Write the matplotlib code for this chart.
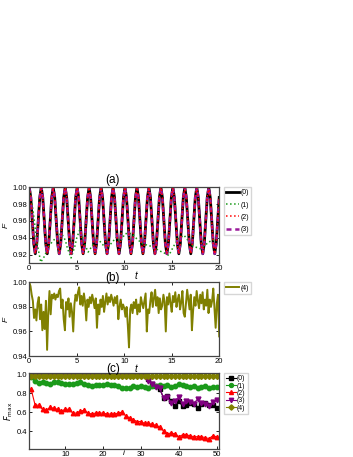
import numpy as np
import matplotlib
matplotlib.use("Agg")
from matplotlib import pyplot as plt

plt.rcParams['font.family'] = ['Liberation Sans', 'DejaVu Sans']
plt.rcParams['font.size'] = 5.5

# (a) fidelity vs t, curves (0), (2), (3) coincide
t_a = np.linspace(0, 20, 128)
f0 = [
    1.000, 0.988, 0.960, 0.933, 0.921, 0.933, 0.960, 0.988,
    1.000, 0.988, 0.960, 0.933, 0.921, 0.933, 0.960, 0.988,
    1.000, 0.988, 0.960, 0.933, 0.921, 0.933, 0.960, 0.988,
    1.000, 0.988, 0.960, 0.933, 0.921, 0.933, 0.960, 0.988,
    1.000, 0.988, 0.960, 0.933, 0.921, 0.933, 0.960, 0.988,
    1.000, 0.988, 0.960, 0.933, 0.921, 0.933, 0.960, 0.988,
    1.000, 0.988, 0.960, 0.933, 0.921, 0.933, 0.960, 0.988,
    1.000, 0.988, 0.960, 0.933, 0.921, 0.933, 0.960, 0.988,
    1.000, 0.988, 0.960, 0.933, 0.921, 0.933, 0.960, 0.988,
    1.000, 0.988, 0.960, 0.933, 0.921, 0.933, 0.960, 0.988,
    1.000, 0.988, 0.960, 0.933, 0.921, 0.933, 0.960, 0.988,
    1.000, 0.988, 0.960, 0.933, 0.921, 0.933, 0.960, 0.988,
    1.000, 0.988, 0.960, 0.933, 0.921, 0.933, 0.960, 0.988,
    1.000, 0.988, 0.960, 0.933, 0.921, 0.933, 0.960, 0.988,
    1.000, 0.988, 0.960, 0.933, 0.921, 0.933, 0.960, 0.988,
    1.000, 0.988, 0.960, 0.933, 0.921, 0.933, 0.960, 0.988,
]
f2 = f0  # same as (0) in the picture
f3 = f0

t1 = [0, 0.4, 0.8, 1.2, 1.6, 2.0, 2.4, 2.8, 3.2, 3.4, 3.8, 4.0, 4.4, 4.8, 5.0,
      5.3, 5.6, 6.0, 6.2, 6.6, 7.1, 7.5, 8.1, 8.6, 9.2, 9.6, 10.1, 10.8, 11.3,
      11.9, 12.5, 13.1, 13.6, 14.2, 14.7, 15.2, 15.7, 16.3, 16.7, 17.1, 17.5,
      18.0, 18.5, 18.9, 19.5, 20.0]
f1 = [1.0, 0.972, 0.935, 0.911, 0.918, 0.929, 0.935, 0.940, 0.944, 0.945, 0.937,
      0.928, 0.916, 0.930, 0.940, 0.949, 0.940, 0.928, 0.923, 0.930, 0.939, 0.935,
      0.927, 0.933, 0.941, 0.936, 0.945, 0.945, 0.939, 0.933, 0.931, 0.929, 0.925,
      0.922, 0.919, 0.930, 0.939, 0.943, 0.937, 0.931, 0.929, 0.927, 0.931, 0.935,
      0.938, 0.941]

# (b) fidelity of case (4)
t_b = np.linspace(0, 20, 161)
f4 = [
    1.000, 0.997, 0.990, 0.985, 0.971, 0.978, 0.969, 0.983,
    0.988, 0.970, 0.982, 0.961, 0.976, 0.962, 0.985, 0.945,
    0.975, 0.993, 0.974, 0.990, 0.987, 0.991, 0.986, 0.990,
    0.988, 0.993, 0.995, 0.979, 0.986, 0.970, 0.961, 0.984,
    0.978, 0.987, 0.972, 0.983, 0.976, 0.960, 0.982, 0.990,
    0.985, 0.992, 0.996, 0.982, 0.989, 0.981, 0.991, 0.984,
    0.969, 0.986, 0.980, 0.988, 0.983, 0.990, 0.985, 0.979,
    0.987, 0.963, 0.982, 0.974, 0.986, 0.980, 0.989, 0.976,
    0.984, 0.991, 0.982, 0.988, 0.984, 0.990, 0.986, 0.981,
    0.988, 0.983, 0.989, 0.970, 0.980, 0.986, 0.978, 0.982,
    0.979, 0.972, 0.980, 0.965, 0.947, 0.978, 0.982, 0.975,
    0.984, 0.979, 0.986, 0.974, 0.982, 0.976, 0.988, 0.983,
    0.979, 0.985, 0.991, 0.960, 0.978, 0.975, 0.985, 0.992,
    0.980, 0.987, 0.994, 0.981, 0.988, 0.975, 0.987, 0.978,
    0.981, 0.990, 0.984, 0.960, 0.988, 0.982, 0.991, 0.983,
    0.976, 0.989, 0.984, 0.992, 0.980, 0.986, 0.990, 0.978,
    0.984, 0.993, 0.975, 0.972, 0.983, 0.994, 0.986, 0.978,
    0.990, 0.961, 0.977, 0.988, 0.981, 0.993, 0.985, 0.979,
    0.990, 0.983, 0.992, 0.978, 0.986, 0.981, 0.994, 0.975,
    0.986, 0.980, 0.985, 0.995, 0.979, 0.963, 0.983, 0.990,
    0.956,
]

# (c) maximal fidelity vs i
i_c = np.arange(1, 51)
fm0 = [1.00, 1.00, 0.99, 1.00, 1.00, 0.99, 1.00, 1.00, 0.99, 1.00,
       1.00, 1.00, 0.99, 1.00, 1.00, 1.00, 0.99, 1.00, 1.00, 1.00,
       0.99, 1.00, 1.00, 1.00, 0.99, 1.00, 1.00, 1.00, 0.99, 1.00,
       0.99, 0.95, 0.90, 0.88, 0.84, 0.75, 0.77, 0.72, 0.66, 0.72,
       0.66, 0.67, 0.70, 0.69, 0.64, 0.69, 0.70, 0.67, 0.68, 0.64]
fm1 = [0.97, 0.93, 0.91, 0.92, 0.91, 0.90, 0.92, 0.92, 0.91, 0.90,
       0.90, 0.90, 0.91, 0.92, 0.90, 0.89, 0.88, 0.89, 0.89, 0.89,
       0.90, 0.89, 0.89, 0.88, 0.86, 0.86, 0.85, 0.88, 0.87, 0.88,
       0.87, 0.86, 0.88, 0.88, 0.89, 0.88, 0.89, 0.87, 0.88, 0.90,
       0.89, 0.88, 0.87, 0.88, 0.86, 0.87, 0.88, 0.86, 0.87, 0.87]
fm2 = [0.84, 0.68, 0.67, 0.63, 0.62, 0.65, 0.64, 0.63, 0.61, 0.63,
       0.63, 0.59, 0.59, 0.61, 0.62, 0.59, 0.58, 0.59, 0.59, 0.59,
       0.58, 0.58, 0.58, 0.59, 0.60, 0.56, 0.54, 0.52, 0.50, 0.50,
       0.48, 0.48, 0.47, 0.46, 0.44, 0.40, 0.37, 0.38, 0.37, 0.34,
       0.36, 0.36, 0.35, 0.34, 0.34, 0.34, 0.33, 0.32, 0.35, 0.34]
fm3 = [1.00, 1.00, 1.00, 0.99, 1.00, 1.00, 1.00, 0.99, 1.00, 1.00,
       1.00, 0.99, 1.00, 1.00, 1.00, 1.00, 0.99, 1.00, 1.00, 1.00,
       1.00, 0.99, 1.00, 1.00, 1.00, 0.99, 1.00, 1.00, 1.00, 1.00,
       0.99, 0.93, 0.90, 0.87, 0.85, 0.75, 0.76, 0.70, 0.72, 0.76,
       0.69, 0.72, 0.71, 0.69, 0.74, 0.70, 0.69, 0.66, 0.71, 0.73]
fm4 = [0.98] * 50

fig = plt.figure(figsize=(3.53, 4.57), dpi=100)
ax_a = fig.add_axes([0.083, 0.4245, 0.538, 0.1655])
ax_b = fig.add_axes([0.083, 0.221, 0.538, 0.161])
ax_c = fig.add_axes([0.083, 0.0175, 0.538, 0.166])

for ax in (ax_a, ax_b, ax_c):
    ax.tick_params(direction='in', top=True, right=True, length=2, width=0.6, pad=1.5,
                   labelsize=5.5)
    for s in ax.spines.values():
        s.set_color('#444444')
        s.set_linewidth(0.9)

leg_kw = dict(loc='upper left', bbox_to_anchor=(1.025, 1.0), borderaxespad=0,
              fontsize=5, handletextpad=0.15, borderpad=0.3, frameon=True,
              fancybox=False, edgecolor='#cccccc')

# panel (a)
ax_a.plot(t_a, f0, color='black', lw=2.0, label='(0)')
ax_a.plot(t1, f1, color='#1a9a1a', lw=1.1, ls=':', label='(1)')
ax_a.plot(t_a, f3, color='#9a1a9a', lw=1.8, ls=(0, (2, 1.5)), label='(3)')
ax_a.plot(t_a, f2, color='red', lw=1.1, ls=':', label='(2)')
ax_a.set_xlim(0, 20)
ax_a.set_ylim(0.91, 1.0)
ax_a.set_xticks([0, 5, 10, 15, 20])
ax_a.set_yticks([0.92, 0.94, 0.96, 0.98, 1.00])
ax_a.set_yticklabels(['0.92', '0.94', '0.96', '0.98', '1.00'])
ax_a.set_title('(a)', fontsize=8.5, pad=3, x=0.44)
ax_a.set_xlabel('t', style='italic', fontsize=7, labelpad=0)
ax_a.xaxis.set_label_coords(0.56, -0.11)
ax_a.set_ylabel('F', style='italic', fontsize=6, labelpad=2)
h, l = ax_a.get_legend_handles_labels()
order = [0, 1, 3, 2]
ax_a.legend([h[k] for k in order], [l[k] for k in order], handlelength=1.9,
            labelspacing=0.75, **leg_kw)

# panel (b)
ax_b.plot(t_b, f4, color='#808000', lw=1.4, label='(4)')
ax_b.set_xlim(0, 20)
ax_b.set_ylim(0.94, 1.0)
ax_b.set_xticks([0, 5, 10, 15, 20])
ax_b.set_yticks([0.94, 0.96, 0.98, 1.00])
ax_b.set_yticklabels(['0.94', '0.96', '0.98', '1.00'])
ax_b.set_title('(b)', fontsize=8.5, pad=1, x=0.44)
ax_b.set_xlabel('t', style='italic', fontsize=7, labelpad=0)
ax_b.xaxis.set_label_coords(0.56, -0.11)
ax_b.set_ylabel('F', style='italic', fontsize=6, labelpad=2)
ax_b.legend(handlelength=1.9, **leg_kw)

# panel (c)
ax_c.plot(i_c, fm0, color='black', marker='s', ms=3, lw=0.8, label='(0)')
ax_c.plot(i_c, fm1, color='#1a9a1a', marker='o', ms=3.2, lw=0.8, label='(1)')
ax_c.plot(i_c, fm2, color='red', marker='^', ms=3.2, lw=0.8, label='(2)')
ax_c.plot(i_c, fm3, color='#800080', marker='v', ms=3.5, lw=0.8, label='(3)')
ax_c.plot(i_c, fm4, color='#808000', marker='D', ms=3, lw=0.8, label='(4)')
ax_c.set_xlim(0.5, 50.7)
ax_c.set_ylim(0.21, 1.012)
ax_c.set_xticks([10, 20, 30, 40, 50])
ax_c.set_yticks([0.4, 0.6, 0.8, 1.0])
ax_c.set_title('(c)', fontsize=8.5, pad=1, x=0.44)
ax_c.set_xlabel('i', style='italic', fontsize=6, labelpad=0)
ax_c.xaxis.set_label_coords(0.5, -0.015)
ax_c.set_ylabel(r'$F_{\rm max}$', fontsize=6, labelpad=1)
ax_c.legend(handlelength=1.4, labelspacing=0.05, markerscale=0.9, **leg_kw)

fig.savefig('out.png', dpi=100)
